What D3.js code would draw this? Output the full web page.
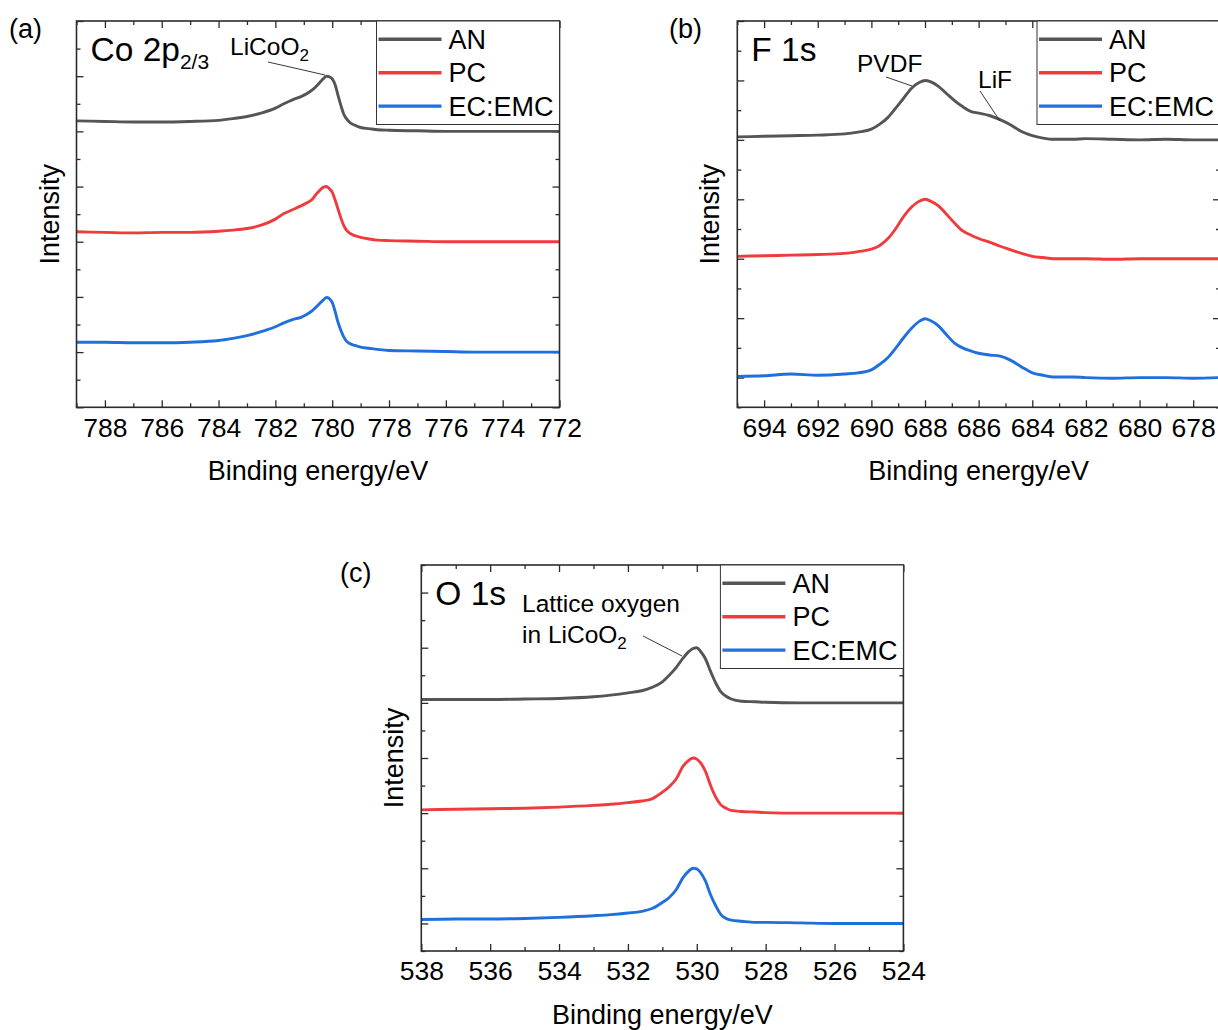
<!DOCTYPE html>
<html>
<head>
<meta charset="utf-8">
<script src="https://cdn.jsdelivr.net/npm/d3@7"></script>
<style>
  html, body { margin: 0; padding: 0; background: #fff; }
  svg { display: block; }
  text { font-family: "Liberation Sans", Arial, Helvetica, sans-serif; fill: #000; }
</style>
</head>
<body>
<svg id="chart" width="1218" height="1030"></svg>
<script>
// ---------------- DATA ----------------
const seriesNames = ["AN", "PC", "EC:EMC"];
const seriesColors = ["#555555", "#ef3b3d", "#1f6fdc"];

// Panel (a) Co 2p
const energyA = [789, 788, 787, 786, 785, 784, 783.5, 783, 782.5, 782, 781.7, 781.4, 781.1, 780.9, 780.7, 780.5, 780.3, 780.2, 780.1, 780.0, 779.9, 779.8, 779.7, 779.6, 779.5, 779.4, 779.2, 779.0, 778.7, 778.4, 778, 777, 776, 775, 774, 773, 772];
const anA = [5.19, 5.18, 5.17, 5.17, 5.18, 5.20, 5.23, 5.27, 5.33, 5.42, 5.50, 5.57, 5.63, 5.68, 5.75, 5.85, 5.96, 6.00, 5.99, 5.95, 5.85, 5.66, 5.48, 5.32, 5.23, 5.17, 5.11, 5.07, 5.05, 5.03, 5.02, 5.01, 5.00, 5.00, 5.00, 5.00, 5.00];
const pcA = [3.18, 3.17, 3.16, 3.17, 3.17, 3.19, 3.21, 3.24, 3.30, 3.41, 3.51, 3.58, 3.65, 3.70, 3.77, 3.90, 3.99, 4.00, 3.96, 3.90, 3.76, 3.60, 3.44, 3.30, 3.21, 3.16, 3.11, 3.08, 3.05, 3.03, 3.02, 3.01, 3.00, 3.00, 3.00, 3.00, 3.00];
const ecA = [1.18, 1.18, 1.17, 1.17, 1.18, 1.21, 1.25, 1.30, 1.37, 1.46, 1.53, 1.59, 1.63, 1.68, 1.75, 1.85, 1.95, 1.99, 1.97, 1.90, 1.74, 1.55, 1.40, 1.28, 1.20, 1.16, 1.12, 1.09, 1.07, 1.05, 1.03, 1.02, 1.01, 1.00, 1.00, 1.00, 1.00];
const tickLabelsA = [788, 786, 784, 782, 780, 778, 776, 774, 772];

// Panel (b) F 1s
const energyB = [695, 694, 693, 692, 691, 690.5, 690, 689.7, 689.4, 689.1, 688.8, 688.5, 688.2, 688.0, 687.8, 687.5, 687.2, 686.9, 686.6, 686.3, 686.0, 685.6, 685.2, 684.8, 684.4, 684.0, 683.6, 683.2, 682.5, 682, 681, 680, 679, 678, 677];
const anB = [4.05, 4.06, 4.07, 4.08, 4.10, 4.13, 4.18, 4.26, 4.37, 4.53, 4.70, 4.87, 4.97, 5.00, 4.98, 4.90, 4.78, 4.66, 4.56, 4.48, 4.45, 4.41, 4.34, 4.25, 4.14, 4.07, 4.03, 4.01, 4.01, 4.02, 4.01, 4.00, 4.01, 4.00, 4.00];
const pcB = [2.04, 2.05, 2.06, 2.07, 2.09, 2.12, 2.16, 2.22, 2.33, 2.50, 2.71, 2.87, 2.97, 3.00, 2.97, 2.89, 2.75, 2.60, 2.47, 2.40, 2.34, 2.28, 2.21, 2.15, 2.09, 2.04, 2.02, 2.00, 2.00, 2.00, 1.99, 2.00, 2.00, 2.00, 2.00];
const ecB = [0.02, 0.03, 0.06, 0.04, 0.06, 0.08, 0.13, 0.22, 0.33, 0.49, 0.67, 0.83, 0.95, 0.99, 0.96, 0.87, 0.72, 0.58, 0.50, 0.45, 0.41, 0.38, 0.36, 0.29, 0.18, 0.08, 0.04, 0.01, 0.01, 0.00, -0.01, 0.00, 0.00, -0.01, 0.00];
const tickLabelsB = [694, 692, 690, 688, 686, 684, 682, 680, 678];

// Panel (c) O 1s
const energyC = [538, 537, 536, 535, 534, 533, 532.5, 532, 531.6, 531.3, 531.0, 530.8, 530.6, 530.4, 530.25, 530.1, 530.0, 529.9, 529.75, 529.6, 529.45, 529.3, 529.15, 529.0, 528.7, 528.3, 528, 527, 526, 525, 524];
const anC = [4.06, 4.06, 4.06, 4.07, 4.08, 4.11, 4.14, 4.18, 4.22, 4.28, 4.38, 4.50, 4.64, 4.81, 4.92, 4.99, 5.00, 4.94, 4.80, 4.57, 4.36, 4.20, 4.12, 4.07, 4.03, 4.02, 4.01, 4.00, 4.00, 4.00, 4.00];
const pcC = [2.06, 2.07, 2.08, 2.09, 2.11, 2.14, 2.16, 2.19, 2.22, 2.26, 2.38, 2.48, 2.62, 2.85, 2.95, 3.00, 2.98, 2.92, 2.76, 2.50, 2.29, 2.15, 2.09, 2.05, 2.03, 2.02, 2.01, 2.00, 2.00, 2.00, 2.00];
const ecC = [0.07, 0.08, 0.08, 0.09, 0.11, 0.14, 0.16, 0.19, 0.22, 0.27, 0.38, 0.47, 0.61, 0.83, 0.94, 1.00, 0.99, 0.93, 0.77, 0.52, 0.32, 0.16, 0.09, 0.06, 0.04, 0.02, 0.02, 0.01, 0.00, 0.00, 0.00];
const tickLabelsC = [538, 536, 534, 532, 530, 528, 526, 524];

// ---------------- DRAW ----------------
const svg = d3.select("#chart");
const FONT = "'Liberation Sans', Arial, Helvetica, sans-serif";
const frameColor = "#2b2b2b";

function drawPanel(cfg) {
  const g = svg.append("g");
  const { x0, y0, w, h } = cfg.box;
  const x = d3.scaleLinear().domain(cfg.xDomain).range([x0, x0 + w]);
  const y = d3.scaleLinear().domain(cfg.yDomain).range([y0 + h, y0]);

  const xMajor = cfg.tickLabels;
  const xMinor = d3.range(Math.ceil(Math.min(...cfg.xDomain)), Math.floor(Math.max(...cfg.xDomain)) + 1)
    .filter(v => !xMajor.includes(v) && v % 2 !== 0);
  const yMajor = d3.range(Math.ceil(cfg.yDomain[0]), Math.floor(cfg.yDomain[1]) + 1);
  const yMinor = d3.range(Math.ceil(cfg.yDomain[0] * 2), Math.floor(cfg.yDomain[1] * 2) + 1)
    .map(v => v / 2).filter(v => !Number.isInteger(v));

  const styleAxis = sel => {
    sel.select(".domain").remove();
    sel.selectAll(".tick line").attr("stroke", frameColor).attr("stroke-width", 1.3);
  };
  // bottom
  g.append("g").attr("transform", `translate(0,${y0 + h})`)
    .call(d3.axisBottom(x).tickValues(xMajor).tickSize(-7).tickPadding(10.5).tickFormat(d3.format("d")))
    .call(styleAxis)
    .call(s => s.selectAll("text").attr("font-size", 26.5).attr("font-family", FONT).attr("fill", "#000"));
  g.append("g").attr("transform", `translate(0,${y0 + h})`)
    .call(d3.axisBottom(x).tickValues(xMinor).tickSize(-4).tickFormat(""))
    .call(styleAxis);
  // top
  g.append("g").attr("transform", `translate(0,${y0})`)
    .call(d3.axisTop(x).tickValues(xMajor).tickSize(-7).tickFormat(""))
    .call(styleAxis);
  g.append("g").attr("transform", `translate(0,${y0})`)
    .call(d3.axisTop(x).tickValues(xMinor).tickSize(-4).tickFormat(""))
    .call(styleAxis);
  // left / right
  [[d3.axisLeft, x0], [d3.axisRight, x0 + w]].forEach(([ax, px]) => {
    g.append("g").attr("transform", `translate(${px},0)`)
      .call(ax(y).tickValues(yMajor).tickSize(-7).tickFormat(""))
      .call(styleAxis);
    g.append("g").attr("transform", `translate(${px},0)`)
      .call(ax(y).tickValues(yMinor).tickSize(-4).tickFormat(""))
      .call(styleAxis);
  });

  // curves
  const line = d3.line().curve(d3.curveMonotoneX)
    .x(d => x(d[0])).y(d => y(d[1]));
  cfg.series.forEach((vals, i) => {
    const pts = cfg.energy.map((e, k) => [e, vals[k]]);
    g.append("path").attr("d", line(pts))
      .attr("fill", "none").attr("stroke", seriesColors[i])
      .attr("stroke-width", 2.9).attr("stroke-linejoin", "round");
  });

  // frame
  g.append("rect").attr("x", x0).attr("y", y0).attr("width", w).attr("height", h)
    .attr("fill", "none").attr("stroke", frameColor).attr("stroke-width", 1.6);

  // legend
  const lg = g.append("g").attr("transform", `translate(${x0 + w - 183},${y0})`);
  lg.append("rect").attr("x", 0).attr("y", 0).attr("width", 183).attr("height", 103.5)
    .attr("fill", "#fff").attr("stroke", "#333").attr("stroke-width", 1);
  seriesNames.forEach((n, i) => {
    const ly = 18.3 + i * 33.4;
    lg.append("line").attr("x1", 2).attr("x2", 65).attr("y1", ly).attr("y2", ly)
      .attr("stroke", seriesColors[i]).attr("stroke-width", 3.4);
    lg.append("text").attr("x", 72).attr("y", ly + 9.5).attr("font-size", 27).text(n);
  });

  // axis titles
  g.append("text").attr("x", x0 + w / 2).attr("y", y0 + h + 73)
    .attr("text-anchor", "middle").attr("font-size", 27).text("Binding energy/eV");
  g.append("text").attr("transform", `translate(${x0 - 18},${y0 + h / 2}) rotate(-90)`)
    .attr("text-anchor", "middle").attr("font-size", 27).text("Intensity");

  // panel letter
  g.append("text").attr("x", cfg.letterPos[0]).attr("y", cfg.letterPos[1])
    .attr("font-size", 27).text(cfg.letter);

  // title with optional subscript
  const t = g.append("text").attr("x", x0 + 14).attr("y", y0 + 40).attr("font-size", 33.5);
  t.append("tspan").text(cfg.title[0]);
  if (cfg.title[1]) t.append("tspan").attr("font-size", 21).attr("dy", 8).text(cfg.title[1]);

  // annotations
  cfg.notes.forEach(nt => {
    const tx = g.append("text").attr("x", nt.x).attr("y", nt.y).attr("font-size", 24.5);
    tx.append("tspan").text(nt.text);
    if (nt.sub) tx.append("tspan").attr("font-size", 17).attr("dy", 6).text(nt.sub);
    if (nt.line) g.append("line").attr("x1", nt.line[0]).attr("y1", nt.line[1])
      .attr("x2", nt.line[2]).attr("y2", nt.line[3]).attr("stroke", "#222").attr("stroke-width", 0.9);
  });
}

drawPanel({
  box: { x0: 76.5, y0: 21, w: 483, h: 386.3 },
  xDomain: [789, 772], yDomain: [0, 7],
  energy: energyA, series: [anA, pcA, ecA], tickLabels: tickLabelsA,
  letter: "(a)", letterPos: [9, 38],
  title: ["Co 2p", "2/3"],
  notes: [{ text: "LiCoO", sub: "2", x: 230, y: 55, line: [268, 62, 325, 75] }]
});

drawPanel({
  box: { x0: 737.3, y0: 21, w: 482.7, h: 386.3 },
  xDomain: [695, 677], yDomain: [-0.5, 6],
  energy: energyB, series: [anB, pcB, ecB], tickLabels: tickLabelsB,
  letter: "(b)", letterPos: [669, 38],
  title: ["F 1s"],
  notes: [
    { text: "PVDF", x: 857, y: 72, line: [886, 77, 912, 86] },
    { text: "LiF", x: 978, y: 88, line: [980, 91, 1000, 121] }
  ]
});

drawPanel({
  box: { x0: 421.3, y0: 565, w: 482.1, h: 386 },
  xDomain: [538, 524], yDomain: [-0.5, 6.5],
  energy: energyC, series: [anC, pcC, ecC], tickLabels: tickLabelsC,
  letter: "(c)", letterPos: [340, 582],
  title: ["O 1s"],
  notes: [
    { text: "Lattice oxygen", x: 522, y: 612 },
    { text: "in LiCoO", sub: "2", x: 522, y: 643, line: [643, 636, 682, 656] }
  ]
});
</script>
</body>
</html>
